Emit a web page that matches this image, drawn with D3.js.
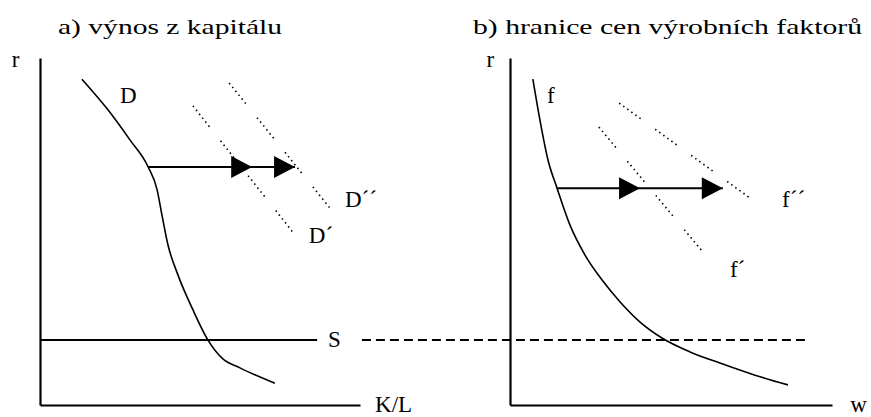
<!DOCTYPE html>
<html>
<head>
<meta charset="utf-8">
<script src="https://cdn.jsdelivr.net/npm/d3@7"></script>
<style>
  body { margin: 0; background: #fff; }
  text { font-family: "Liberation Serif", "Times New Roman", serif; fill: #000; }
</style>
</head>
<body>
<script>
// curve D (panel a), [K/L, r]
var curveD = [[1.31,9.39],[2.13,8.50],[2.81,7.64],[3.38,6.86],[3.66,6.20],[3.81,5.48],[4.00,4.61],
  [4.31,3.75],[4.78,2.74],[5.25,1.87],[5.69,1.35],[6.25,1.07],[7.34,0.63]];
// curve f (panel b), [w, r]
var curveF = [[0.71,9.39],[0.93,8.21],[1.18,7.06],[1.46,6.25],[1.86,5.19],[2.33,4.32],[2.86,3.60],
  [3.42,2.97],[4.04,2.39],[4.72,1.93],[5.59,1.53],[6.52,1.21],[7.61,0.86],[8.63,0.58]];
// shifted curves (dotted), start and end
var curveD1 = [[4.78,8.62],[7.97,4.90]];
var curveD2 = [[5.91,9.28],[9.16,5.56]];
var curveF1 = [[2.76,8.01],[5.99,4.41]];
var curveF2 = [[3.39,8.70],[7.83,5.71]];
var supplyR = 1.87;     // level of S
var supplyEndA = 8.66;  // end of solid S in panel a
var dashEndA = 10.06, dashEndB = 9.22;
var arrowA = {y: 6.86, from: 3.38, tips: [6.63, 7.97]};
var arrowB = {y: 6.25, from: 1.46, tips: [4.04, 6.61]};
var titles = ["a) výnos z kapitálu", "b) hranice cen výrobních faktorů"];
var labelsA = [["r", -0.88, 9.75], ["D", 2.5, 8.7], ["D´´", 9.53, 5.71], ["D´", 8.4, 4.67], ["S", 9.0, 1.67], ["K/L", 10.47, -0.2]];
var labelsB = [["r", -0.73, 9.75], ["f", 1.15, 8.7], ["f´´", 8.45, 5.71], ["f´", 6.83, 3.69], ["w", 10.57, -0.2]];

var W = 871, H = 417;
var svg = d3.select("body").append("svg").attr("width", W).attr("height", H);

var y = d3.scaleLinear().domain([0, 10]).range([405, 58]);
var xA = d3.scaleLinear().domain([0, 10]).range([40, 360]);
var xB = d3.scaleLinear().domain([0, 10]).range([510, 832]);

function drawPanel(x, curve, d1, d2, arrow, labels) {
  var g = svg.append("g");
  g.append("g").attr("transform", "translate(0," + y(0) + ")")
    .call(d3.axisBottom(x).tickValues([]).tickSizeOuter(0))
    .select(".domain").attr("stroke", "#000").attr("stroke-width", 2.2);
  g.append("g").attr("transform", "translate(" + x(0) + ",0)")
    .call(d3.axisLeft(y).tickValues([]).tickSizeOuter(0))
    .select(".domain").attr("stroke", "#000").attr("stroke-width", 2.2);

  var line = d3.line().x(function(d){ return x(d[0]); }).y(function(d){ return y(d[1]); }).curve(d3.curveMonotoneX);
  g.append("path").attr("d", line(curve)).attr("fill", "none").attr("stroke", "#000").attr("stroke-width", 1.6);

  [d1, d2].forEach(function(d) {
    g.append("path").attr("d", d3.line().x(function(p){ return x(p[0]); }).y(function(p){ return y(p[1]); })(d))
      .attr("fill", "none").attr("stroke", "#000").attr("stroke-width", 1.6)
      .attr("stroke-dasharray", "1.5,3.5,1.5,3.5,1.5,3.5,1.5,3.5,1.5,3.5,1.5,18");
  });

  g.append("line").attr("x1", x(arrow.from)).attr("x2", x(arrow.tips[1]))
    .attr("y1", y(arrow.y)).attr("y2", y(arrow.y)).attr("stroke", "#000").attr("stroke-width", 2);
  arrow.tips.forEach(function(t) {
    var tx = x(t), ty = y(arrow.y);
    g.append("path").attr("d", "M" + (tx - 21) + "," + (ty - 11) + "L" + tx + "," + ty + "L" + (tx - 21) + "," + (ty + 11) + "Z")
      .attr("fill", "#000");
  });

  labels.forEach(function(l) {
    g.append("text").attr("x", x(l[1])).attr("y", y(l[2])).attr("font-size", 23).text(l[0]);
  });
  return g;
}

drawPanel(xA, curveD, curveD1, curveD2, arrowA, labelsA);
drawPanel(xB, curveF, curveF1, curveF2, arrowB, labelsB);

// S line, solid in a), dashed across to b)
svg.append("line").attr("x1", xA(0)).attr("x2", xA(supplyEndA)).attr("y1", y(supplyR)).attr("y2", y(supplyR))
  .attr("stroke", "#000").attr("stroke-width", 2);
svg.append("line").attr("x1", xA(dashEndA)).attr("x2", xB(dashEndB)).attr("y1", y(supplyR)).attr("y2", y(supplyR))
  .attr("stroke", "#000").attr("stroke-width", 2).attr("stroke-dasharray", "9,5");

svg.append("text").attr("x", 58).attr("y", 34).attr("font-size", 22)
  .attr("textLength", 224).attr("lengthAdjust", "spacingAndGlyphs").text(titles[0]);
svg.append("text").attr("x", 473).attr("y", 34).attr("font-size", 22)
  .attr("textLength", 389).attr("lengthAdjust", "spacingAndGlyphs").text(titles[1]);
</script>
</body>
</html>
